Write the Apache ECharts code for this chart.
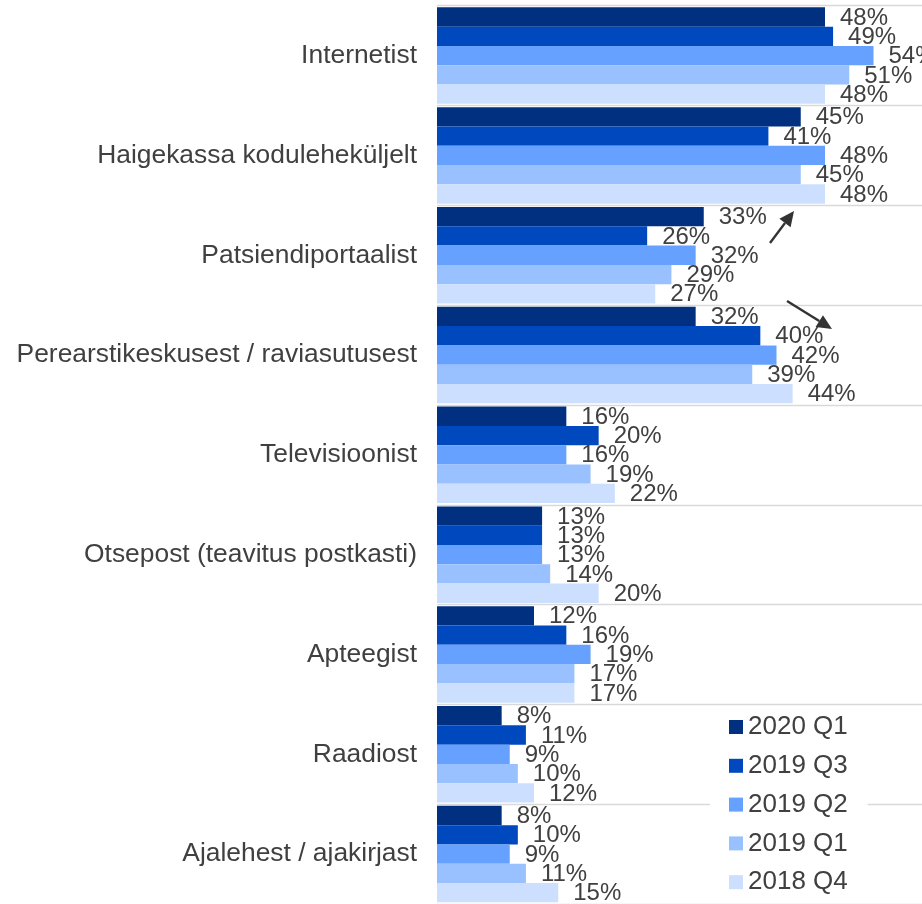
<!DOCTYPE html>
<html>
<head>
<meta charset="utf-8">
<script src="https://cdn.jsdelivr.net/npm/echarts@6/dist/echarts.min.js"></script>
<style>
html,body{margin:0;padding:0;background:#fff;}
#chart{width:922px;height:904px;}
</style>
</head>
<body>
<div id="chart"></div>
<script>
const categories = ['Internetist','Haigekassa koduleheküljelt','Patsiendiportaalist','Perearstikeskusest / raviasutusest','Televisioonist','Otsepost (teavitus postkasti)','Apteegist','Raadiost','Ajalehest / ajakirjast'];
const seriesNames = ['2020 Q1','2019 Q3','2019 Q2','2019 Q1','2018 Q4'];
const q1_2020 = [48,45,33,32,16,13,12,8,8];
const q3_2019 = [49,41,26,40,20,13,16,11,10];
const q2_2019 = [54,48,32,42,16,13,19,9,9];
const q1_2019 = [51,45,29,39,19,14,17,10,11];
const q4_2018 = [48,48,27,44,22,20,17,12,15];
const seriesData = [q1_2020,q3_2019,q2_2019,q1_2019,q4_2018];
const colors = ['#00307F','#0048BE','#66A1FF','#99C0FF','#CCDFFF'];

const FONT = '"Liberation Sans", Arial, sans-serif';
const chart = echarts.init(document.getElementById('chart'), null, {renderer:'canvas'});

function arrow(tail, tip, hl, hw){
  const dx = tip[0]-tail[0], dy = tip[1]-tail[1];
  const L = Math.sqrt(dx*dx+dy*dy);
  const ux = dx/L, uy = dy/L;
  const bx = tip[0]-hl*ux, by = tip[1]-hl*uy;
  const px = -uy, py = ux;
  return [
    {type:'line', shape:{x1:tail[0],y1:tail[1],x2:bx,y2:by}, style:{stroke:'#333333',lineWidth:2.4}, z:100},
    {type:'polygon', shape:{points:[[tip[0],tip[1]],[bx+hw*px,by+hw*py],[bx-hw*px,by-hw*py]]}, style:{fill:'#333333'}, z:100}
  ];
}

const option = {
  animation:false,
  color: colors,
  grid:{left:437, top:5.7, width:488, height:900, containLabel:false},
  xAxis:{type:'value', min:0, max:60, show:false, splitLine:{show:false}},
  yAxis:{
    type:'category', data:categories, inverse:true,
    axisLine:{show:false}, axisTick:{show:false},
    axisLabel:{color:'#404040', fontSize:26.4, fontFamily:FONT, margin:20},
    splitLine:{show:true, lineStyle:{color:'#d9d9d9', width:1.3}}
  },
  legend:{
    orient:'vertical', left:710, top:707,
    padding:[7,20,6,19], backgroundColor:'#ffffff',
    itemWidth:14, itemHeight:14, itemGap:12.8,
    icon:'rect',
    textStyle:{color:'#404040', fontSize:26, fontFamily:FONT, lineHeight:26, padding:[0,0,0,0]},
    data: seriesNames
  },
  series: seriesNames.map((n,i)=>({
    name:n, type:'bar', data:seriesData[i],
    barGap:'0%', barCategoryGap:'3.3%',
    itemStyle:{color:colors[i]},
    label:{show:true, position:'right', distance:15, formatter:'{c}%', color:'#404040', fontSize:24, fontFamily:FONT, offset:[0,1]}
  })),
  graphic: [].concat(arrow([770,243],[794,211],15,7), arrow([787,301],[832,329],15,7))
};
chart.setOption(option);
</script>
</body>
</html>
